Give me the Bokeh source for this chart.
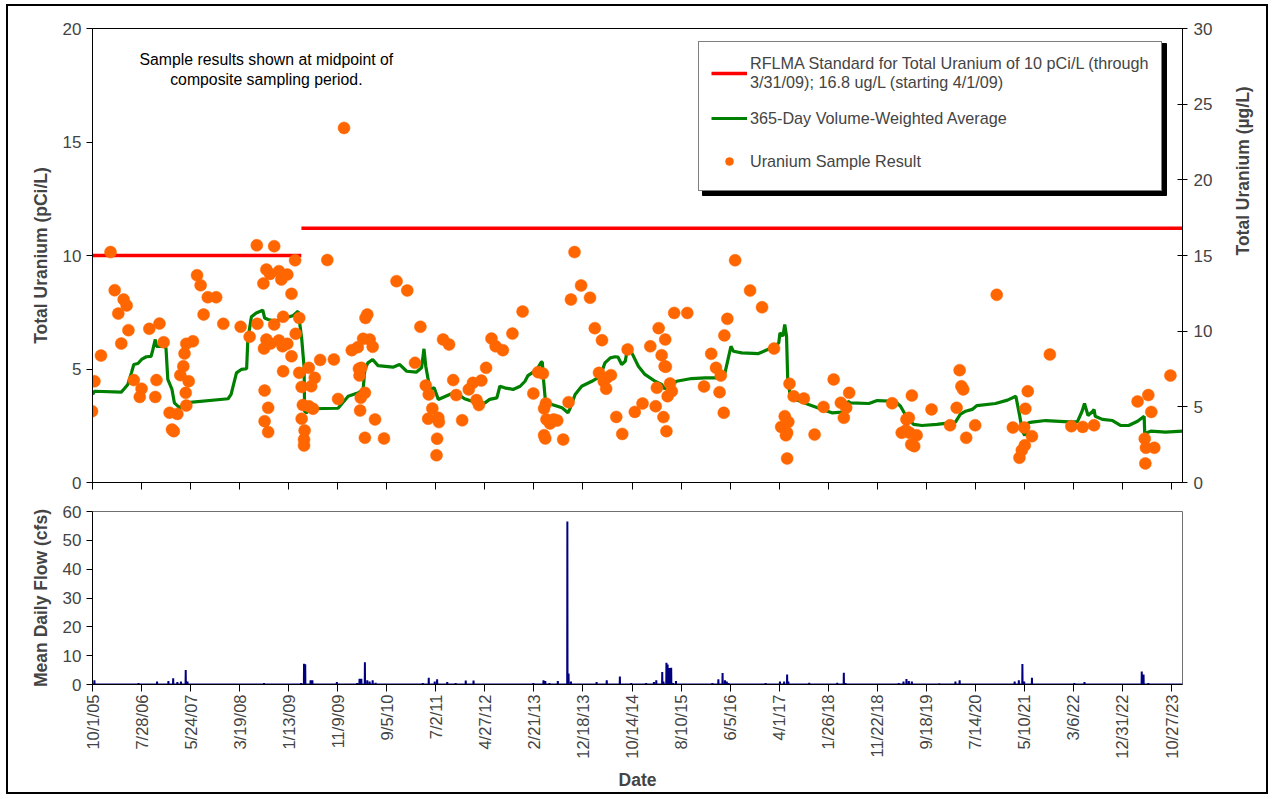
import math
from datetime import datetime, timedelta
from bokeh.plotting import figure
from bokeh.models import (Range1d, LinearAxis, FixedTicker, CustomJSTickFormatter,
                          Legend, LegendItem, Label, ColumnDataSource, BoxAnnotation)
from bokeh.layouts import column
from bokeh.embed import file_html
from bokeh.resources import INLINE

FONT = "Liberation Sans"

# ---------------- data ----------------
tick_labels = ["10/1/05", "7/28/06", "5/24/07", "3/19/08", "1/13/09", "11/9/09", "9/5/10",
               "7/2/11", "4/27/12", "2/21/13", "12/18/13", "10/14/14", "8/10/15", "6/5/16",
               "4/1/17", "1/26/18", "11/22/18", "9/18/19", "7/14/20", "5/10/21", "3/6/22",
               "12/31/22", "10/27/23"]

# Uranium sample results (decimal year, pCi/L)
sample_year = [2005.74, 2005.78, 2005.89, 2006.05, 2006.12, 2006.18, 2006.23, 2006.27, 2006.32, 2006.35,
               2006.44, 2006.54, 2006.57, 2006.70, 2006.80, 2006.82, 2006.87, 2006.94, 2007.04, 2007.08,
               2007.11, 2007.17, 2007.22, 2007.27, 2007.29, 2007.31, 2007.32, 2007.32, 2007.36, 2007.43,
               2007.50, 2007.56, 2007.61, 2007.68, 2007.82, 2007.94, 2008.23, 2008.38, 2008.50, 2008.51,
               2008.61, 2008.62, 2008.63, 2008.63, 2008.66, 2008.66, 2008.69, 2008.69, 2008.72, 2008.73,
               2008.79, 2008.79, 2008.87, 2008.87, 2008.91, 2008.93, 2008.94, 2008.94, 2009.01, 2009.01,
               2009.08, 2009.08, 2009.14, 2009.15, 2009.21, 2009.21, 2009.25, 2009.25, 2009.27, 2009.29,
               2009.29, 2009.30, 2009.37, 2009.37, 2009.41, 2009.44, 2009.47, 2009.56, 2009.68, 2009.79,
               2009.86, 2009.96, 2010.09, 2010.19, 2010.21, 2010.22, 2010.23, 2010.25, 2010.24, 2010.28,
               2010.31, 2010.31, 2010.32, 2010.35, 2010.39, 2010.44, 2010.48, 2010.63, 2010.84, 2011.02,
               2011.15, 2011.24, 2011.33, 2011.37, 2011.38, 2011.44, 2011.51, 2011.52, 2011.54, 2011.55,
               2011.62, 2011.72, 2011.79, 2011.84, 2011.94, 2012.05, 2012.12, 2012.18, 2012.22, 2012.26,
               2012.34, 2012.43, 2012.50, 2012.62, 2012.78, 2012.95, 2013.13, 2013.21, 2013.29, 2013.34,
               2013.31, 2013.35, 2013.41, 2013.47, 2013.53, 2013.31, 2013.33, 2013.63, 2013.72, 2013.76,
               2013.82, 2013.93, 2014.08, 2014.16, 2014.23, 2014.28, 2014.31, 2014.35, 2014.36, 2014.43,
               2014.52, 2014.62, 2014.71, 2014.83, 2014.96, 2015.09, 2015.18, 2015.20, 2015.23, 2015.28,
               2015.31, 2015.33, 2015.34, 2015.35, 2015.36, 2015.38, 2015.42, 2015.45, 2015.49, 2015.71,
               2015.99, 2016.11, 2016.19, 2016.25, 2016.27, 2016.32, 2016.33, 2016.38, 2016.51, 2016.76,
               2016.96, 2017.16, 2017.28, 2017.34, 2017.36, 2017.38, 2017.38, 2017.40, 2017.42, 2017.49,
               2017.66, 2017.84, 2017.99, 2018.16, 2018.28, 2018.33, 2018.37, 2018.42, 2019.14, 2019.30,
               2019.37, 2019.38, 2019.42, 2019.43, 2019.46, 2019.51, 2019.47, 2019.55, 2019.80, 2020.11,
               2020.22, 2020.27, 2020.30, 2020.33, 2020.38, 2020.53, 2020.89, 2021.16, 2021.27, 2021.31,
               2021.36, 2021.35, 2021.37, 2021.41, 2021.48, 2021.78, 2022.14, 2022.33, 2022.52, 2023.25,
               2023.37, 2023.38, 2023.39, 2023.43, 2023.48, 2023.53, 2023.80]
sample_pci = [3.14, 4.46, 5.59, 10.15, 8.47, 7.44, 6.12, 8.06, 7.80, 6.71,
              4.51, 3.77, 4.13, 6.77, 3.77, 4.51, 7.00, 6.18, 3.07, 2.33,
              2.26, 3.02, 4.73, 5.12, 5.68, 3.95, 3.39, 6.11, 4.46, 6.22,
              9.13, 8.69, 7.40, 8.16, 8.16, 6.99, 6.86, 6.42, 10.45, 6.99,
              8.77, 5.90, 4.05, 2.70, 9.38, 6.30, 3.29, 2.22, 9.19, 6.12,
              10.41, 6.96, 9.31, 6.26, 8.94, 6.00, 7.30, 4.90, 9.16, 6.11,
              8.31, 5.56, 9.79, 6.55, 7.25, 4.83, 4.21, 2.81, 3.41, 1.89,
              1.63, 2.29, 3.36, 5.05, 4.24, 3.25, 4.61, 5.40, 9.80, 5.42,
              3.68, 15.62, 5.83, 5.96, 5.01, 4.71, 3.17, 5.05, 3.73, 6.33,
              3.95, 1.97, 7.25, 7.40, 6.30, 5.98, 2.78, 1.94, 8.87, 8.46,
              5.27, 6.86, 4.27, 2.81, 3.88, 3.26, 1.20, 1.93, 2.85, 2.66,
              6.30, 6.08, 4.51, 3.85, 2.74, 4.10, 4.39, 3.63, 3.41, 4.49,
              5.05, 6.34, 6.00, 5.83, 6.56, 7.53, 3.92, 4.86, 4.80, 3.48,
              3.26, 2.78, 2.60, 2.78, 2.73, 2.08, 1.94, 1.89, 3.54, 8.06,
              10.15, 8.68, 8.14, 6.80, 4.83, 6.27, 4.46, 4.13, 4.61, 4.73,
              2.89, 2.14, 5.86, 3.11, 3.48, 6.00, 3.36, 4.17, 6.80, 5.61,
              2.88, 5.12, 6.30, 5.10, 2.26, 3.80, 4.36, 4.02, 7.47, 7.47,
              4.23, 5.67, 5.05, 3.98, 4.71, 3.07, 6.48, 7.21, 9.79, 8.46,
              7.72, 5.90, 2.45, 2.92, 2.08, 2.19, 1.06, 2.67, 4.35, 3.80,
              3.70, 2.11, 3.33, 4.54, 3.51, 2.85, 3.29, 3.95, 3.49, 2.19,
              2.29, 2.78, 2.85, 2.19, 1.67, 1.60, 3.83, 2.08, 3.22, 2.52,
              3.29, 4.95, 4.24, 4.10, 1.97, 2.52, 8.27, 2.42, 1.09, 1.42,
              1.64, 2.42, 3.25, 4.02, 2.04, 5.64, 2.48, 2.45, 2.52, 3.57,
              1.93, 0.84, 1.53, 3.85, 3.11, 1.53, 4.71]

# 365-day volume-weighted average (decimal year, pCi/L)
vwa_year = [2005.75, 2005.78, 2006.23, 2006.28, 2006.34, 2006.40, 2006.44, 2006.51, 2006.57, 2006.65,
            2006.73, 2006.76, 2006.80, 2006.82, 2006.96, 2006.98, 2007.01, 2007.08, 2007.12, 2007.21,
            2007.29, 2008.02, 2008.07, 2008.16, 2008.24, 2008.33, 2008.35, 2008.41, 2008.49, 2008.60,
            2008.63, 2008.69, 2008.80, 2008.94, 2009.11, 2009.19, 2009.25, 2009.29, 2009.30, 2009.33,
            2009.41, 2009.86, 2010.03, 2010.20, 2010.28, 2010.31, 2010.36, 2010.44, 2010.53, 2010.78,
            2010.89, 2011.01, 2011.17, 2011.26, 2011.30, 2011.33, 2011.40, 2011.47, 2011.54, 2011.73,
            2011.84, 2011.98, 2012.18, 2012.32, 2012.40, 2012.52, 2012.57, 2012.65, 2012.79, 2012.91,
            2012.99, 2013.04, 2013.19, 2013.26, 2013.28, 2013.30, 2013.33, 2013.44, 2013.61, 2013.71,
            2013.75, 2013.83, 2013.94, 2014.11, 2014.25, 2014.33, 2014.42, 2014.50, 2014.55, 2014.61,
            2014.67, 2014.72, 2014.78, 2014.89, 2015.00, 2015.17, 2015.28, 2015.33, 2015.39, 2015.53,
            2015.78, 2016.01, 2016.26, 2016.34, 2016.44, 2016.48, 2016.62, 2016.90, 2017.18, 2017.24,
            2017.26, 2017.31, 2017.34, 2017.37, 2017.39, 2017.43, 2017.52, 2017.74, 2017.97, 2018.13,
            2018.30, 2018.38, 2018.40, 2018.44, 2018.75, 2018.89, 2019.19, 2019.28, 2019.39, 2019.50,
            2019.64, 2019.89, 2020.20, 2020.28, 2020.37, 2020.48, 2020.56, 2020.87, 2021.07, 2021.21,
            2021.27, 2021.32, 2021.36, 2021.42, 2021.48, 2021.71, 2022.10, 2022.24, 2022.32, 2022.36,
            2022.42, 2022.50, 2022.52, 2022.54, 2022.66, 2022.83, 2022.97, 2023.10, 2023.25, 2023.36,
            2023.37, 2023.47, 2023.72, 2024.00]
vwa_pci = [3.88, 4.02, 3.98, 4.13, 4.32, 4.83, 5.20, 5.24, 5.42, 5.54,
           5.56, 5.86, 6.30, 6.00, 6.00, 5.90, 4.54, 4.10, 3.51, 3.29,
           3.51, 3.69, 3.88, 4.83, 4.98, 5.01, 6.30, 7.30, 7.47, 7.59,
           7.25, 7.18, 7.11, 7.21, 7.36, 7.55, 6.37, 5.12, 3.14, 3.07,
           3.25, 3.27, 3.80, 3.95, 4.10, 4.98, 5.27, 5.42, 5.15, 5.08,
           5.20, 4.90, 4.86, 5.05, 5.89, 5.12, 4.10, 4.17, 3.66, 3.88,
           3.95, 3.69, 3.51, 3.51, 3.66, 3.73, 4.24, 4.17, 4.10, 4.24,
           4.46, 4.71, 4.98, 5.30, 5.30, 4.54, 3.66, 3.44, 3.29, 3.07,
           3.29, 3.88, 4.24, 4.46, 4.68, 5.27, 5.49, 5.54, 5.52, 5.20,
           5.34, 6.08, 5.71, 5.12, 4.76, 4.46, 4.32, 4.13, 4.24, 4.46,
           4.58, 4.61, 4.61, 4.83, 6.00, 5.78, 5.71, 5.68, 6.00, 6.15,
           6.59, 6.45, 6.96, 6.45, 4.54, 3.88, 3.66, 3.44, 3.22, 3.07,
           3.10, 3.22, 3.58, 3.51, 3.48, 3.61, 3.58, 3.36, 2.85, 2.56,
           2.51, 2.56, 2.66, 3.00, 3.14, 3.22, 3.39, 3.48, 3.63, 3.80,
           3.00, 2.26, 2.07, 2.63, 2.66, 2.73, 2.67, 2.67, 3.14, 3.48,
           2.95, 3.14, 3.22, 2.92, 2.78, 2.73, 2.51, 2.51, 2.70, 2.92,
           2.16, 2.26, 2.22, 2.26]

# RFLMA standard periods
std_start = ["10/1/05", "4/1/09"]
std_end = ["3/31/09", "1/2/24"]
std_value = [10.0, 16.8]          # first in pCi/L, second in ug/L
std_units = ["pCi/L", "ug/L"]

# Mean daily flow spikes (decimal year, cfs); flow is ~0 otherwise
flow_year = [2005.78, 2006.52, 2006.83, 2007.02, 2007.10, 2007.17, 2007.23, 2007.31, 2007.34, 2008.62,
             2009.24, 2009.29, 2009.31, 2009.40, 2009.43, 2009.84, 2010.18, 2010.22, 2010.25, 2010.31,
             2010.35, 2010.39, 2010.44, 2010.49, 2011.28, 2011.38, 2011.48, 2011.52, 2011.69, 2011.83,
             2012.00, 2012.13, 2013.13, 2013.30, 2013.33, 2013.40, 2013.54, 2013.70, 2013.72, 2013.76,
             2014.19, 2014.36, 2014.58, 2014.77, 2015.02, 2015.15, 2015.19, 2015.29, 2015.31, 2015.36,
             2015.38, 2015.41, 2015.44, 2015.47, 2015.52, 2016.13, 2016.23, 2016.30, 2016.34, 2016.37,
             2016.40, 2017.02, 2017.26, 2017.33, 2017.38, 2017.40, 2017.75, 2018.22, 2018.33, 2018.36,
             2019.25, 2019.33, 2019.38, 2019.42, 2019.47, 2019.93, 2020.20, 2020.27, 2021.19, 2021.26,
             2021.32, 2021.35, 2021.48, 2022.19, 2022.36, 2023.32, 2023.35, 2023.43]
flow_cfs = [1.5, 0.5, 1.0, 1.2, 2.2, 0.8, 1.0, 5.0, 1.0, 0.5,
            0.5, 7.2, 7.0, 1.5, 1.5, 0.8, 0.5, 2.0, 2.0, 7.7,
            1.5, 1.0, 1.5, 0.6, 0.5, 2.3, 1.0, 1.8, 0.8, 0.5,
            1.4, 1.4, 0.5, 1.5, 1.2, 0.5, 1.2, 56.5, 3.8, 1.0,
            0.8, 1.5, 2.8, 0.5, 0.5, 0.8, 1.5, 4.3, 1.0, 7.5,
            6.9, 5.7, 5.8, 0.5, 1.2, 0.5, 1.8, 4.0, 1.5, 1.0,
            0.5, 0.5, 1.0, 1.0, 3.5, 1.0, 0.6, 0.6, 4.1, 0.5,
            0.5, 1.0, 1.9, 1.2, 1.0, 0.4, 1.0, 1.5, 1.0, 1.5,
            7.1, 1.0, 2.3, 0.5, 0.8, 4.5, 3.5, 0.5]

UG_PER_PCI = 1.5


# ---------------- helpers ----------------
def yr2dt(y):
    yi = int(y)
    start = datetime(yi, 1, 1)
    ndays = (datetime(yi + 1, 1, 1) - start).days
    return start + timedelta(days=(y - yi) * ndays)


def lbl2dt(s):
    return datetime.strptime(s, "%m/%d/%y")


EPOCH = datetime(1970, 1, 1)


def ms(d):
    return (d - EPOCH).total_seconds() * 1000.0


x_start = lbl2dt(tick_labels[0])
x_end = lbl2dt(std_end[-1])
tick_ms = [ms(lbl2dt(s)) for s in tick_labels]

fmt = CustomJSTickFormatter(code="""
const d = new Date(tick);
return (d.getUTCMonth()+1) + "/" + d.getUTCDate() + "/" + String(d.getUTCFullYear()).slice(2);
""")
blank_fmt = CustomJSTickFormatter(code='return "";')

W = 1258
ML, MR = 84, 84
TOP_H, TOP_MT, TOP_MB = 498, 22, 22
FRAME_W = W - ML - MR
FRAME_H = TOP_H - TOP_MT - TOP_MB
Y_MAX = 20

TICK_FS = "17px"
AXL_FS = "17.5px"

# ---------------- top figure ----------------
p1 = figure(width=W, height=TOP_H, x_axis_type="datetime",
            x_range=Range1d(x_start, x_end), y_range=Range1d(0, Y_MAX),
            output_backend="svg", toolbar_location=None,
            min_border_left=ML, min_border_right=MR, min_border_top=TOP_MT, min_border_bottom=TOP_MB)
p1.extra_y_ranges = {"ug": Range1d(0, Y_MAX * UG_PER_PCI)}
p1.grid.visible = False
p1.outline_line_color = "black"
p1.outline_line_width = 1
p1.background_fill_color = "white"
p1.border_fill_color = "white"

# standard lines
r_std1 = p1.line([lbl2dt(std_start[0]), lbl2dt(std_end[0])], [std_value[0]] * 2,
                 line_color="#FF0000", line_width=3.5)
r_std2 = p1.line([lbl2dt(std_start[1]), lbl2dt(std_end[1])], [std_value[1]] * 2,
                 line_color="#FF0000", line_width=3.5, y_range_name="ug")

# VWA line
r_vwa = p1.line([yr2dt(y) for y in vwa_year], vwa_pci, line_color="#008000", line_width=3.2)

# samples
src = ColumnDataSource(dict(x=[yr2dt(y) for y in sample_year], y=sample_pci))
r_smp = p1.scatter("x", "y", source=src, size=12, fill_color="#FF6600", line_color="#FF6600",
                   line_width=0.5)

# axes
p1.xaxis.ticker = FixedTicker(ticks=tick_ms)
p1.xaxis.formatter = blank_fmt
p1.xaxis.major_tick_out = 7
p1.xaxis.major_tick_in = 0
p1.xaxis.minor_tick_line_color = None
p1.xaxis.axis_line_color = "black"

yl = p1.yaxis[0]
yl.ticker = FixedTicker(ticks=[0, 5, 10, 15, 20])
yl.axis_label = "Total Uranium (pCi/L)"
yl.axis_label_text_font = FONT
yl.axis_label_text_font_style = "bold"
yl.axis_label_text_font_size = AXL_FS
yl.axis_label_standoff = 9
yl.major_label_text_font = FONT
yl.major_label_text_font_size = TICK_FS
yl.major_tick_out = 6
yl.major_tick_in = 0
yl.minor_tick_line_color = None
yl.major_label_standoff = 5

yr = LinearAxis(y_range_name="ug", ticker=FixedTicker(ticks=[0, 5, 10, 15, 20, 25, 30]),
                axis_label="Total Uranium (µg/L)")
yr.axis_label_text_font = FONT
yr.axis_label_text_font_style = "bold"
yr.axis_label_text_font_size = AXL_FS
yr.axis_label_standoff = 28
yr.axis_label_orientation = math.pi / 2
yr.major_label_text_font = FONT
yr.major_label_text_font_size = TICK_FS
yr.major_tick_out = 5
yr.major_tick_in = 5
yr.minor_tick_line_color = None
yr.major_label_standoff = 6
p1.add_layout(yr, "right")

# note
note = Label(x=yr2dt(2008.66), y=19.0, text="Sample results shown at midpoint of\ncomposite sampling period.",
             text_align="center", text_baseline="top", text_font=FONT, text_font_size="15.8px",
             text_color="black", text_line_height=1.15)
p1.add_layout(note)

# legend
LEG_X, LEG_TOP = 606, 11            # offset from frame left / top, in px
LEG_W, LEG_H = 464, 152


def px2x(px):
    return ms(x_start) + px / FRAME_W * (ms(x_end) - ms(x_start))


def px2y(py_from_top):
    return Y_MAX * (1 - py_from_top / FRAME_H)


shadow = BoxAnnotation(left=px2x(LEG_X + 4), right=px2x(LEG_X + LEG_W + 4),
                       top=px2y(LEG_TOP + 4), bottom=px2y(LEG_TOP + LEG_H + 4),
                       fill_color="black", fill_alpha=1.0, line_color="black", line_alpha=1.0)
p1.add_layout(shadow)

legend = Legend(items=[
    LegendItem(label="RFLMA Standard for Total Uranium of 10 pCi/L (through\n3/31/09); 16.8 ug/L (starting 4/1/09)",
               renderers=[r_std1]),
    LegendItem(label="365-Day Volume-Weighted Average", renderers=[r_vwa]),
    LegendItem(label="Uranium Sample Result", renderers=[r_smp]),
], location=(LEG_X, FRAME_H - LEG_TOP - LEG_H))
legend.label_text_font = FONT
legend.label_text_font_size = "16.2px"
legend.label_text_line_height = 1.1
legend.label_height = 34
legend.glyph_width = 36
legend.glyph_height = 20
legend.spacing = 9
legend.padding = 12
legend.margin = 0
legend.label_standoff = 3
legend.border_line_color = "black"
legend.border_line_width = 1
legend.background_fill_color = "white"
legend.background_fill_alpha = 1.0
p1.add_layout(legend)

# ---------------- bottom figure ----------------
BOT_H, BOT_MT, BOT_MB = 288, 7, 104
p2 = figure(width=W, height=BOT_H, x_axis_type="datetime",
            x_range=p1.x_range, y_range=Range1d(0, 60),
            output_backend="svg", toolbar_location=None,
            min_border_left=ML, min_border_right=MR, min_border_top=BOT_MT, min_border_bottom=BOT_MB)
p2.grid.visible = False
p2.outline_line_color = "#707070"
p2.border_fill_color = "white"

# flow trace: spikes on a zero baseline
pts = [(x_start, 0.0), (x_end, 0.0)]
for y, v in zip(flow_year, flow_cfs):
    d = yr2dt(y)
    pts += [(d - timedelta(days=1), 0.0), (d, v), (d + timedelta(days=1), 0.0)]
pts.sort(key=lambda t: t[0])
p2.line([t[0] for t in pts], [t[1] for t in pts], line_color="#000080", line_width=2)

p2.xaxis.ticker = FixedTicker(ticks=tick_ms)
p2.xaxis.formatter = fmt
p2.xaxis.major_label_orientation = math.pi / 2
p2.xaxis.major_label_text_font = FONT
p2.xaxis.major_label_text_font_size = "16.5px"
p2.xaxis.major_label_standoff = 3
p2.xaxis.major_tick_out = 7
p2.xaxis.major_tick_in = 0
p2.xaxis.minor_tick_line_color = None
p2.xaxis.axis_label = "Date"
p2.xaxis.axis_label_text_font = FONT
p2.xaxis.axis_label_text_font_style = "bold"
p2.xaxis.axis_label_text_font_size = AXL_FS
p2.xaxis.axis_label_standoff = 8

y2 = p2.yaxis[0]
y2.ticker = FixedTicker(ticks=[0, 10, 20, 30, 40, 50, 60])
y2.axis_label = "Mean Daily Flow (cfs)"
y2.axis_label_text_font = FONT
y2.axis_label_text_font_style = "bold"
y2.axis_label_text_font_size = AXL_FS
y2.axis_label_standoff = 9
y2.major_label_text_font = FONT
y2.major_label_text_font_size = TICK_FS
y2.major_tick_out = 6
y2.major_tick_in = 0
y2.minor_tick_line_color = None

layout = column(p1, p2, spacing=0,
                styles={"border": "2px solid black", "background-color": "white",
                        "margin-left": "6px", "margin-top": "4px"})

open("out.html", "w").write(file_html(layout, INLINE))
